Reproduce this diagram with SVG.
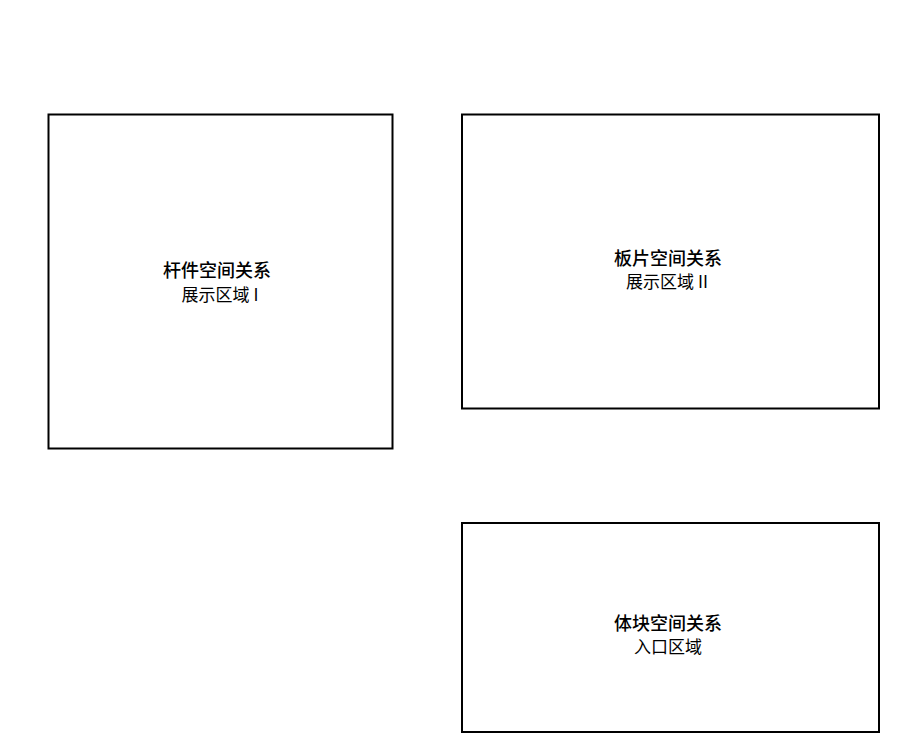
<svg xmlns="http://www.w3.org/2000/svg" width="900" height="745" viewBox="0 0 900 745">
<style>
.box{fill:#ffffff;stroke:#000000;stroke-width:2}
.t{font-family:"Noto Sans CJK SC",sans-serif;font-size:18px;font-weight:500;fill:#000;text-anchor:middle}
.s{font-family:"Noto Sans CJK SC",sans-serif;font-size:17px;fill:#000;text-anchor:middle}
</style>
<rect width="900" height="745" fill="#ffffff"/>
<g id="node-rod">
<rect class="box" x="48.5" y="114.5" width="344" height="334"/>
<text class="t" x="217" y="277">杆件空间关系</text>
<text class="s" x="220" y="301">展示区域 I</text>
</g>
<g id="node-plate">
<rect class="box" x="462" y="114.5" width="417" height="294"/>
<text class="t" x="668" y="265">板片空间关系</text>
<text class="s" x="667" y="288">展示区域 II</text>
</g>
<g id="node-block">
<rect class="box" x="462" y="523" width="417" height="209"/>
<text class="t" x="668" y="630">体块空间关系</text>
<text class="s" x="668" y="653">入口区域</text>
</g>
<g id="connectors"></g>
</svg>
